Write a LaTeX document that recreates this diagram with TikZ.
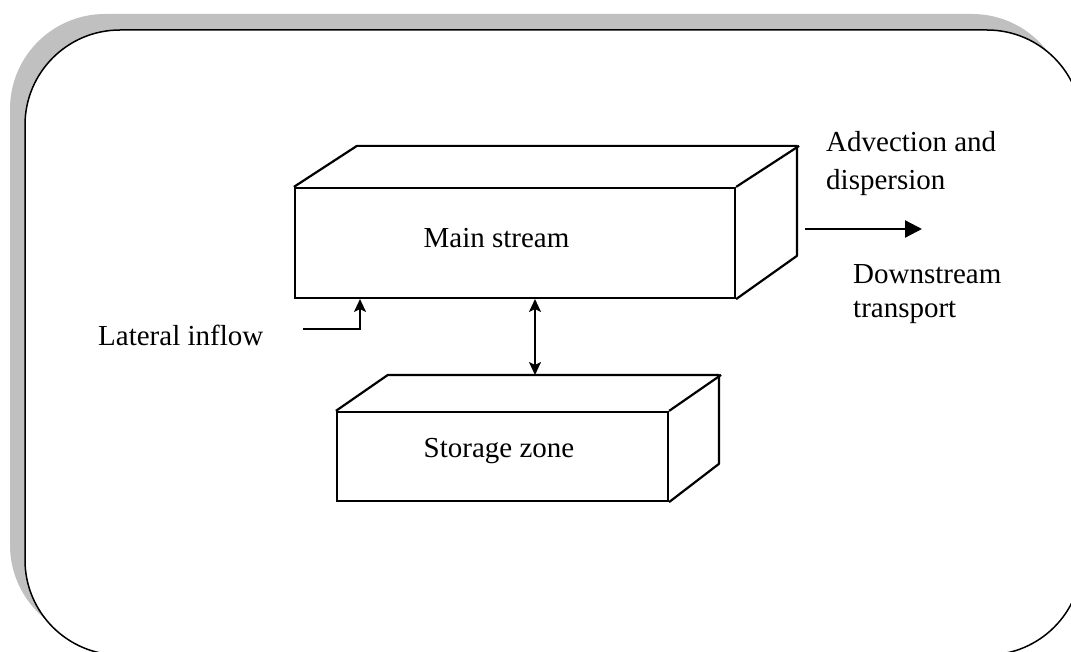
\documentclass[tikz,border=0pt]{standalone}
\usepackage{fontspec}
\setmainfont{Liberation Serif}
\usetikzlibrary{arrows.meta}
\definecolor{shadowgray}{HTML}{C0C0C0}
\begin{document}
\begin{tikzpicture}[x=1pt,y=-1pt,
  boxline/.style={line width=2.2pt, line join=round},
  face/.style={draw, line width=2.2pt, inner sep=0pt},
  lbl/.style={font=\fontsize{29}{33}\selectfont, inner sep=0pt},
  arr/.style={line width=2.2pt, -{Stealth[length=13pt,width=12pt,inset=3pt]}},
  biarr/.style={line width=2.2pt, {Stealth[length=13pt,width=12pt,inset=3pt]}-{Stealth[length=13pt,width=12pt,inset=3pt]}},
  bigarr/.style={line width=2.2pt, -{Triangle[length=17pt,width=17pt]}}
]
\useasboundingbox (0,0) rectangle (1071,652);
\clip (0,0) rectangle (1071,652);
% frame
\fill[shadowgray, rounded corners=95pt] (10,14) rectangle (1067,640);
\draw[line width=1.5pt, fill=white, rounded corners=95pt] (25,30) rectangle (1082,655);

% main stream box
\node[face, minimum width=440pt, minimum height=110pt] (ms) at (515,243) {};
\draw[boxline] (ms.north west) -- ++(63,-41) -- ++(440,0) -- ++(0,110) -- (ms.south east);
\draw[boxline] (ms.north east) -- ++(63,-41);
\node[lbl, anchor=base] (mst) at (496.5,248) {Main stream};

% storage zone box
\node[face, minimum width=331pt, minimum height=89pt] (sz) at (502.5,456.5) {};
\draw[boxline] (sz.north west) -- ++(52,-36) -- ++(331,0) -- ++(0,89) -- (sz.south east);
\draw[boxline] (sz.north east) -- ++(52,-36);
\node[lbl, anchor=base] (szt) at (499,457) {Storage zone};

% exchange arrow
\coordinate (ex1) at (535,299);
\coordinate (ex2) at (535,375);
\draw[biarr] (ex1) -- (ex2);

% lateral inflow
\node[lbl, anchor=base west] (lif) at (98,345) {Lateral inflow};
\coordinate (lin) at (303,329);
\coordinate (lat) at (360,299);
\draw[arr] (lin) -| (lat);

% downstream arrow
\coordinate (ds1) at (805,229);
\coordinate (ds2) at (922,229);
\draw[bigarr] (ds1) -- (ds2);
\node[lbl, anchor=base west, align=left, font=\fontsize{29}{38}\selectfont] (adv) at (826,190) {Advection and\\dispersion};
\node[lbl, anchor=base west, align=left, font=\fontsize{29}{34}\selectfont] (dst) at (853,318) {Downstream\\transport};
\end{tikzpicture}
\end{document}
